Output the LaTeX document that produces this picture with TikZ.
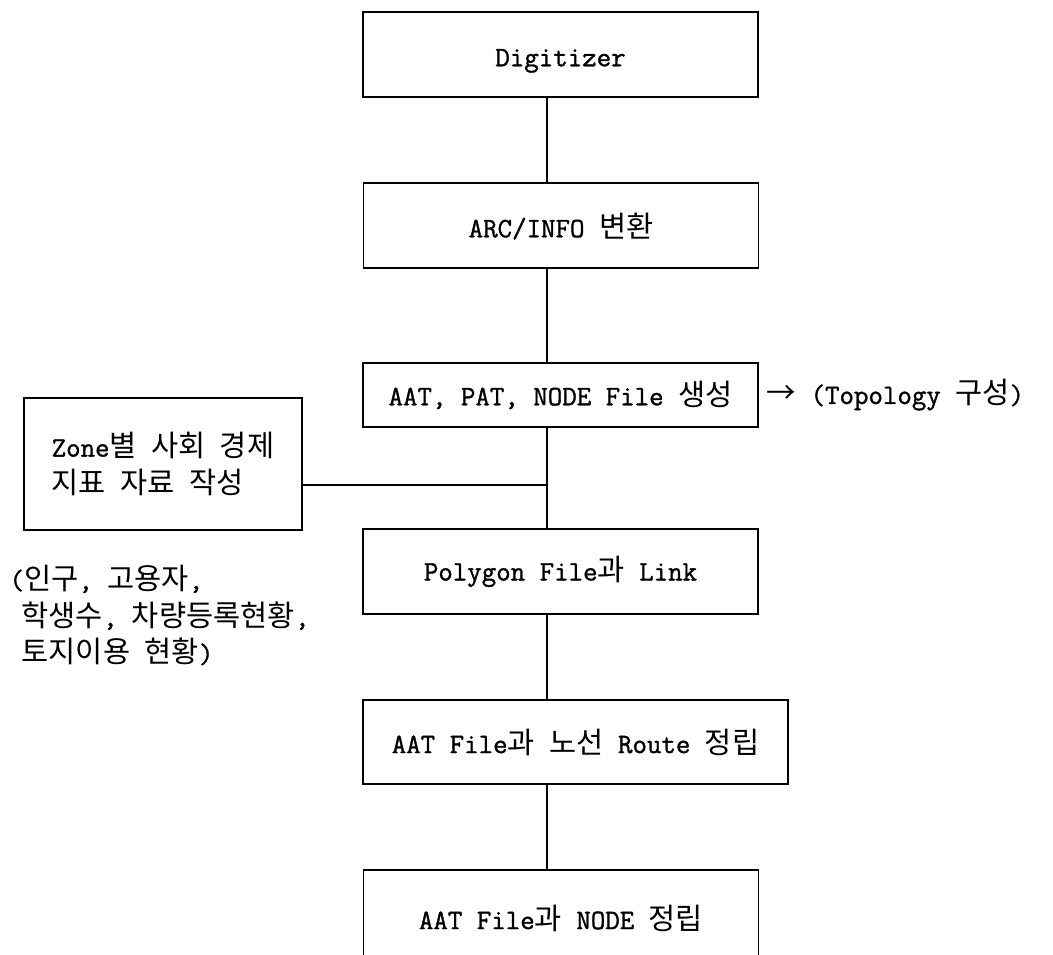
\documentclass[tikz,border=0pt]{standalone}
\usepackage{fontspec}
\setmainfont[FakeBold=1.2]{Latin Modern Mono}
\newfontfamily\krfont[Scale=1.05]{Noto Sans CJK KR}
\newcommand{\kr}[1]{{\krfont #1}}
\usetikzlibrary{arrows.meta,positioning,calc}
\begin{document}
\begin{tikzpicture}[x=0.02cm,y=-0.02cm,line width=0.8pt,font=\fontsize{16}{21}\selectfont]
\tikzstyle{b}=[draw,align=center,inner sep=0pt,minimum width=7.9cm,minimum height=1.7cm]
\tikzstyle{low}=[text height=0.55cm,text depth=0.08cm]
\useasboundingbox (0,0) rectangle (1053,954);
\coordinate (ax) at (547,0);
\node[b,low] (dig) at (560.5,54.5) {Digitizer};
\node[b,low] (arc) at (561,225.5) {ARC/INFO \kr{변환}};
\node[b,minimum height=1.28cm] (aat) at (560.5,395) {AAT, PAT, NODE File \kr{생성}};
\node[anchor=west] (topo) at (760,395) {\kr{→} (Topology \kr{구성})};
\node[b,minimum width=5.56cm,minimum height=2.64cm,align=left] (zone) at (163,464) {Zone\kr{별} \kr{사회} \kr{경제}\\ \kr{지표} \kr{자료} \kr{작성}};
\node[anchor=west,align=left] (note) at (3,615) {(\kr{인구}, \kr{고용자},\\ \hspace{0.24cm}\kr{학생수}, \kr{차량등록현황},\\ \hspace{0.24cm}\kr{토지이용} \kr{현황})};
\node[b] (poly) at (560.5,571.5) {Polygon File\kr{과} Link};
\node[b,minimum width=8.5cm,minimum height=1.68cm] (route) at (575.5,742) {AAT File\kr{과} \kr{노선} Route \kr{정립}};
\node[b,minimum height=1.92cm] (last) at (561,918) {AAT File\kr{과} NODE \kr{정립}};
\draw (dig.south -| ax) -- (arc.north -| ax); \draw (arc.south -| ax) -- (aat.north -| ax);
\draw (aat.south -| ax) -- (poly.north -| ax); \draw (poly.south -| ax) -- (route.north -| ax);
\draw (route.south -| ax) -- (last.north -| ax);
\coordinate (j) at (547,485);
\draw (zone.east |- j) -- (j);
\end{tikzpicture}
\end{document}
